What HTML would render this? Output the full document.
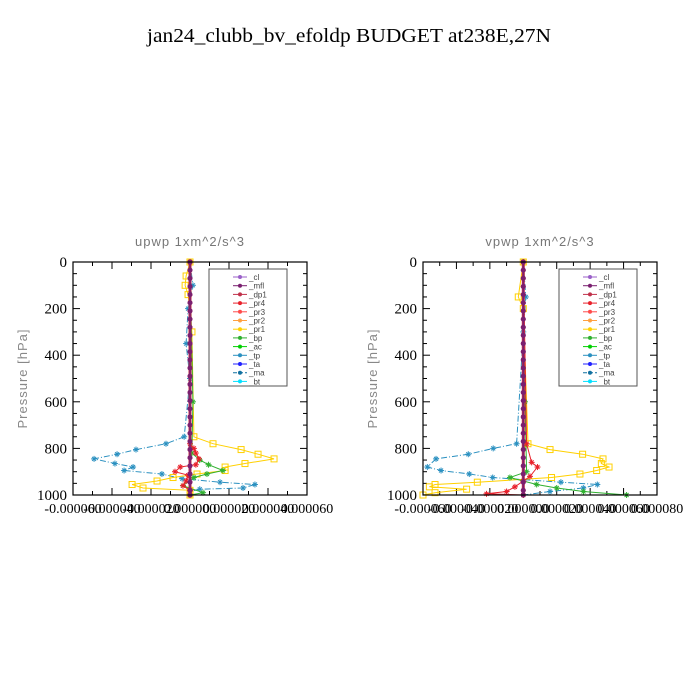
<!DOCTYPE html>
<html><head><meta charset="utf-8"><style>
html,body{margin:0;padding:0;background:#fff;}
svg{display:block;}
</style></head><body>
<svg id="fig" width="700" height="700" viewBox="0 0 700 700" xmlns="http://www.w3.org/2000/svg">
<rect width="700" height="700" fill="#fff"/>
<text x="349" y="42" text-anchor="middle" font-family="Liberation Serif, serif" font-size="20" textLength="404" lengthAdjust="spacingAndGlyphs" fill="#000">jan24_clubb_bv_efoldp  BUDGET at238E,27N</text>
</svg>
<script>
// ---- data ----
const yTicks = [0, 200, 400, 600, 800, 1000];
const upXTicks = ["-0.000060","-0.000040","-0.000020","0.000000","0.000020","0.000040","0.000060"];
const upXVals = [-0.00006,-0.00004,-0.00002,0,0.00002,0.00004,0.00006];
const vpXTicks = ["-0.000060","-0.000040","-0.000020","0.000000","0.000020","0.000040","0.000060","0.000080"];
const vpXVals = [-0.00006,-0.00004,-0.00002,0,0.00002,0.00004,0.00006,0.00008];
const legendNames = ["_cl","_mfl","_dp1","_pr4","_pr3","_pr2","_pr1","_bp","_ac","_tp","_ta","_ma","_bt"];
const legendColors = ["#9a5fc8","#7a1f70","#c0304a","#e8202a","#ff4a4a","#ffa040","#ffd000","#30b030","#00d000","#2a90c0","#2020ff","#1070a0","#00e0ff"];

const upTpP = [0,100,200,350,500,750,780,805,825,845,865,880,895,910,930,945,955,970,975,985,1000];
const upTpX = [0,0.0000015,-0.000001,-0.000002,0,-0.000003,-0.0000123,-0.0000277,-0.0000374,-0.0000492,-0.0000385,-0.0000292,-0.0000338,-0.0000144,-0.000004,0.0000154,0.0000333,0.0000272,0.000005,0,0];
const upPr1P = [0,60,100,140,300,750,780,805,825,845,865,880,895,910,925,940,955,970,980,1000];
const upPr1X = [0,-0.000002,-0.0000025,-0.000001,0.000001,0.000002,0.0000118,0.0000262,0.0000349,0.0000431,0.0000282,0.000018,0.000018,0.0000036,-0.0000087,-0.0000169,-0.0000297,-0.0000241,0,0];
const upBpP = [0,600,820,850,870,895,910,925,960,990,1000];
const upBpX = [0,0.0000015,0.000001,0.000005,0.0000095,0.0000169,0.0000087,0.000002,-0.0000036,0.0000067,0];
const upPr4P = [0,780,800,820,845,870,880,900,915,940,960,980,1000];
const upPr4X = [0,0,0.000002,0.000003,0.0000046,0.000003,-0.000005,-0.0000077,-0.000001,-0.000002,-0.0000036,0,0];

const vpTpP = [0,150,300,780,800,825,845,880,895,910,925,945,955,970,985,1000];
const vpTpX = [0,0.0000015,0,-0.000004,-0.000018,-0.0000329,-0.0000522,-0.0000574,-0.0000492,-0.0000323,-0.0000183,0.0000225,0.0000443,0.0000359,0.000016,0];
const vpPr1P = [0,150,200,780,805,825,845,865,880,895,910,925,945,955,965,975,990,1000];
const vpPr1X = [0,-0.000003,0,0.0000028,0.000016,0.0000355,0.0000477,0.0000467,0.0000513,0.0000439,0.0000339,0.0000169,-0.0000275,-0.0000528,-0.0000562,-0.0000339,-0.0000528,-0.00006];
const vpBpP = [0,600,900,925,940,955,970,985,1000];
const vpBpX = [0,0.000001,0.000002,-0.000008,0,0.000008,0.00002,0.000036,0.0000618];
const vpPr4P = [0,780,860,880,920,940,965,985,995,1000];
const vpPr4X = [0,0.000002,0.000005,0.0000085,0.000004,0,-0.000005,-0.00001,-0.000022,0];

const zeroLevels = [0,35,70,105,140,175,210,245,280,315,350,385,420,455,490,525,560,595,630,665,700,735,770,805,840,875,910,945,980,1000];

// ---- drawing ----
const NS = "http://www.w3.org/2000/svg";
const svg = document.getElementById('fig');
function mk(tag, attrs, parent){
  const e = document.createElementNS(NS, tag);
  for (const k in attrs) e.setAttribute(k, attrs[k]);
  (parent||svg).appendChild(e);
  return e;
}

function panel(name, left, xmin, xmax, xVals, xLabels, title, series){
  const top = 262, bot = 495, right = left + 234;
  const g = mk('g', {});
  
  
  const xs = v => left + (v - xmin) / (xmax - xmin) * (right - left);
  const ys = p => top + p / 1000 * (bot - top);

  const t = mk('text', {x: left + 117, y: 246, 'text-anchor': 'middle', 'font-family': 'Liberation Sans, sans-serif', 'font-size': 13, fill: '#777', 'letter-spacing': '1'}, g);
  t.textContent = title;
  
  

  const yl = mk('text', {x: 0, y: 0, transform: `translate(${left-46},${(top+bot)/2}) rotate(-90)`, 'text-anchor': 'middle', 'font-family': 'Liberation Sans, sans-serif', 'font-size': 13, fill: '#888', 'letter-spacing': '1'}, g);
  yl.textContent = 'Pressure [hPa]';
  
  

  for (let p = 0; p <= 1000; p += 50) {
    const len = (p % 200 === 0) ? 7 : 4;
    mk('line', {x1: left, x2: left + len, y1: ys(p), y2: ys(p), stroke: '#000', 'stroke-width': 1}, g);
    mk('line', {x1: right, x2: right - len, y1: ys(p), y2: ys(p), stroke: '#000', 'stroke-width': 1}, g);
  }
  yTicks.forEach(p => {
    const tx = mk('text', {x: left - 6, y: ys(p) + 5, 'text-anchor': 'end', 'font-family': 'Liberation Serif, serif', 'font-size': 15, fill: '#000'}, g);
    tx.textContent = String(p);
    
    
  });
  for (let v = xmin; v <= xmax + 1e-12; v += 0.00001) {
    const major = Math.abs(Math.round(v / 0.00002) * 0.00002 - v) < 1e-12;
    const len = major ? 7 : 4;
    mk('line', {x1: xs(v), x2: xs(v), y1: bot, y2: bot - len, stroke: '#000'}, g);
    mk('line', {x1: xs(v), x2: xs(v), y1: top, y2: top + len, stroke: '#000'}, g);
  }
  xVals.forEach((v, i) => {
    const tx = mk('text', {x: xs(v), y: bot + 18, 'text-anchor': 'middle', 'font-family': 'Liberation Serif, serif', 'font-size': 14, fill: '#000'}, g);
    tx.textContent = xLabels[i];
    
    
  });

  series.forEach(s => {
    const pts = s.p.map((p, i) => xs(s.x[i]).toFixed(1) + ',' + ys(p).toFixed(1)).join(' ');
    const pl = mk('polyline', {points: pts, fill: 'none', stroke: s.c, 'stroke-width': s.w || 1, 'stroke-dasharray': s.d || 'none'}, g);
    
    
    s.p.forEach((p, i) => {
      const cx = xs(s.x[i]), cy = ys(p);
      if (s.m === 'sq') mk('rect', {x: cx - 3, y: cy - 3, width: 6, height: 6, fill: 'none', stroke: s.c}, g);
      else if (s.m === 'dot') mk('circle', {cx, cy, r: 2.5, fill: s.c}, g);
      else {
        mk('line', {x1: cx - 3, x2: cx + 3, y1: cy, y2: cy, stroke: s.c}, g);
        mk('line', {x1: cx, x2: cx, y1: cy - 3, y2: cy + 3, stroke: s.c}, g);
        mk('line', {x1: cx - 2, x2: cx + 2, y1: cy - 2, y2: cy + 2, stroke: s.c}, g);
        mk('line', {x1: cx - 2, x2: cx + 2, y1: cy + 2, y2: cy - 2, stroke: s.c}, g);
      }
    });
  });

  const fr = mk('rect', {x: left, y: top, width: 234, height: 233, fill: 'none', stroke: '#000', 'stroke-width': 1.2}, g);
  
  

  const lg = mk('g', {}, g);
  
  
  const lx = left + 136;
  mk('rect', {x: lx, y: 269, width: 78, height: 117, fill: '#fff', stroke: '#555'}, lg);
  legendNames.forEach((nm, i) => {
    const yy = 277 + i * 8.7;
    mk('line', {x1: lx + 24, x2: lx + 38, y1: yy, y2: yy, stroke: legendColors[i], 'stroke-dasharray': nm === '_ma' ? '4,2' : 'none'}, lg);
    mk('circle', {cx: lx + 31, cy: yy, r: 2, fill: legendColors[i]}, lg);
    const tx = mk('text', {x: lx + 40, y: yy + 3, 'font-family': 'Liberation Sans, sans-serif', 'font-size': 8, fill: '#444'}, lg);
    tx.textContent = nm;
    
    
  });
}

const zeroX = zeroLevels.map(() => 0);
panel('upwp', 73, -0.00006, 0.00006, upXVals, upXTicks, 'upwp   1xm^2/s^3', [
  {n: '-tp', p: upTpP, x: upTpX, c: '#2a90c0', d: '6,2,1,2', m: 'star'},
  {n: '-pr1', p: upPr1P, x: upPr1X, c: '#ffd000', m: 'sq'},
  {n: '-bp', p: upBpP, x: upBpX, c: '#30b030', m: 'star'},
  {n: '-pr4', p: upPr4P, x: upPr4X, c: '#e8202a', m: 'star'},
  {n: '-dp1', p: zeroLevels, x: zeroX, c: '#c0304a', w: 3, m: 'dot'},
  {n: '-mfl', p: zeroLevels, x: zeroX, c: '#7a1f70', w: 1.5, m: 'dot'}
]);
panel('vpwp', 423, -0.00006, 0.00008, vpXVals, vpXTicks, 'vpwp   1xm^2/s^3', [
  {n: '-tp', p: vpTpP, x: vpTpX, c: '#2a90c0', d: '6,2,1,2', m: 'star'},
  {n: '-pr1', p: vpPr1P, x: vpPr1X, c: '#ffd000', m: 'sq'},
  {n: '-bp', p: vpBpP, x: vpBpX, c: '#30b030', m: 'star'},
  {n: '-pr4', p: vpPr4P, x: vpPr4X, c: '#e8202a', m: 'star'},
  {n: '-dp1', p: zeroLevels, x: zeroX, c: '#c0304a', w: 3, m: 'dot'},
  {n: '-mfl', p: zeroLevels, x: zeroX, c: '#7a1f70', w: 1.5, m: 'dot'}
]);
</script>
</body></html>
